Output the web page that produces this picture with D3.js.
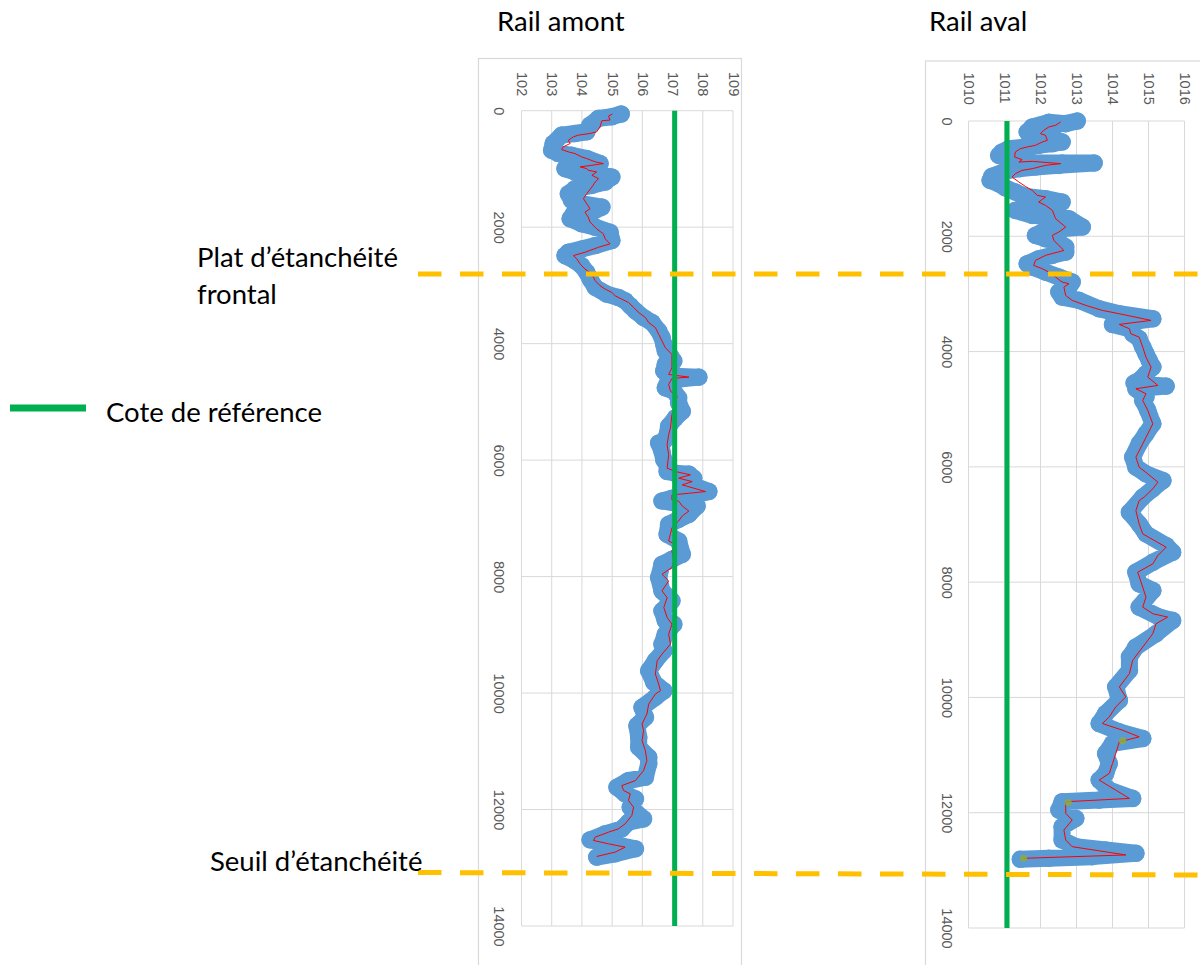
<!DOCTYPE html>
<html>
<head>
<meta charset="utf-8">
<script src="https://cdn.jsdelivr.net/npm/d3@7"></script>
<style>
  html, body { margin: 0; padding: 0; background: #ffffff; }
  svg { display: block; }
  .tick text { font-family: "Liberation Sans", Arial, sans-serif; font-size: 14.5px; fill: #595959; }
  .lbl { font-family: Lato, "Open Sans", sans-serif; font-size: 27.5px; fill: #000000; }
</style>
</head>
<body>
<svg id="chart" width="1200" height="965"></svg>
<script>
// ---- Rail amont : relevé [cote, position] ----
const amontMarkers = [
  [105.30,57],[104.99,103],[104.55,132],[104.27,247],[104.16,362],[103.77,391],[103.33,420],[103.05,563],
  [103.00,678],[103.22,736],[103.66,764],[104.16,822],[104.60,908],[103.99,965],[103.44,994],[103.77,1052],
  [104.44,1080],[104.99,1138],[104.77,1224],[104.33,1282],[103.77,1339],[103.55,1425],[103.66,1540],[103.99,1598],
  [104.66,1655],[104.33,1741],[103.72,1770],[103.61,1856],[103.99,1942],[104.44,2000],[104.93,2086],[104.99,2230],
  [104.44,2316],[103.99,2374],[103.55,2431],[103.44,2488],[103.77,2575],[103.99,2661],[104.16,2776],[104.27,2891],
  [104.44,3034],[104.82,3149],[105.21,3207],[105.43,3264],[105.60,3350],[105.77,3437],[106.04,3552],[106.32,3638],
  [106.54,3782],[106.65,3896],[106.71,4011],[106.76,4126],[106.93,4213],[107.04,4299],[106.76,4356],[106.71,4471],
  [106.87,4557],[107.87,4575],[107.09,4615],[106.82,4690],[106.76,4758],[107.04,4816],[107.20,4931],[107.20,5017],
  [107.32,5161],[107.09,5276],[106.87,5419],[106.82,5563],[106.71,5678],[106.54,5707],[106.65,5850],[106.71,5994],
  [106.82,6080],[106.82,6195],[107.09,6224],[107.54,6241],[107.70,6310],[107.32,6368],[107.76,6454],[108.20,6540],
  [107.76,6598],[106.98,6655],[106.65,6701],[107.32,6760],[107.81,6789],[107.54,6931],[107.20,7017],[106.87,7103],
  [106.82,7274],[107.20,7389],[107.32,7617],[106.98,7703],[106.65,7789],[106.54,8017],[106.65,8246],[106.98,8417],
  [106.65,8589],[106.76,8760],[107.04,8817],[106.76,8989],[106.65,9160],[106.71,9274],[106.43,9446],[106.21,9617],
  [106.38,9817],[106.71,9960],[106.43,10074],[105.99,10246],[106.10,10417],[105.82,10560],[105.88,10760],[105.88,10931],
  [106.21,11103],[106.21,11217],[106.10,11446],[105.54,11503],[105.16,11617],[105.43,11731],[105.77,11817],[105.60,11960],
  [106.04,12160],[105.54,12217],[105.32,12331],[104.77,12417],[104.27,12520],[104.99,12589],[105.77,12674],[105.10,12760],
  [104.49,12817]
];
const amontLine = [
  [105.01,57],[104.88,92],[104.93,161],[104.66,172],[104.60,276],[104.49,362],[104.27,391],[103.88,420],
  [103.72,448],[103.55,506],[103.61,563],[103.38,621],[103.33,667],[103.55,707],[103.77,736],[103.99,793],
  [104.16,822],[104.44,879],[104.71,908],[104.33,937],[103.94,965],[104.16,994],[104.21,1023],[104.49,1052],
  [104.33,1109],[104.55,1167],[104.44,1224],[104.33,1310],[104.16,1425],[104.05,1511],[104.16,1598],[104.27,1684],
  [104.10,1741],[104.21,1828],[104.27,1914],[104.49,2029],[104.71,2115],[104.77,2201],[104.93,2287],[104.55,2345],
  [104.10,2431],[103.72,2488],[103.83,2546],[103.94,2632],[104.10,2718],[104.33,2805],[104.44,2919],[104.60,3006],
  [104.77,3063],[104.99,3121],[105.10,3178],[105.32,3236],[105.54,3293],[105.71,3379],[105.88,3465],[106.10,3552],
  [106.21,3638],[106.43,3724],[106.54,3839],[106.65,3954],[106.76,4069],[106.98,4184],[106.98,4299],[106.98,4414],
  [106.87,4529],[107.54,4575],[106.98,4598],[106.87,4701],[106.93,4816],[107.15,4902],[107.09,5046],[106.98,5218],
  [106.93,5448],[106.87,5563],[106.82,5736],[106.87,5908],[106.82,6138],[107.09,6195],[107.59,6253],[107.20,6310],
  [107.65,6368],[107.32,6425],[108.09,6540],[107.54,6569],[106.98,6598],[106.98,6684],[107.20,6703],[107.32,6789],
  [107.54,6874],[107.32,6960],[107.20,7046],[106.98,7160],[106.87,7389],[107.09,7446],[106.98,7560],[107.04,7731],
  [106.98,7846],[106.65,7960],[106.87,8074],[106.65,8246],[106.82,8360],[106.71,8531],[106.82,8703],[106.98,8817],
  [106.87,8989],[106.93,9160],[106.65,9331],[106.49,9446],[106.43,9674],[106.54,9846],[106.60,9960],[106.43,10017],
  [106.21,10189],[106.15,10360],[105.99,10531],[106.04,10646],[105.99,10817],[106.10,10989],[106.15,11160],[106.04,11331],
  [105.77,11503],[105.32,11589],[105.38,11674],[105.60,11731],[105.54,11846],[105.71,11960],[105.65,12103],[105.43,12246],
  [105.21,12331],[104.88,12389],[104.44,12474],[104.38,12531],[104.88,12589],[105.43,12646],[105.10,12731],[104.49,12806]
];

// ---- Rail aval : relevé [cote, position] ----
const avalMarkers = [
  [1013.02,0],[1012.70,46],[1012.23,23],[1011.77,104],[1011.63,191],[1011.77,249],[1012.05,278],[1012.37,307],
  [1012.60,364],[1012.33,393],[1011.95,422],[1011.58,451],[1011.12,480],[1010.93,538],[1010.84,596],[1011.07,654],
  [1011.30,712],[1011.77,729],[1012.60,729],[1013.49,729],[1012.51,769],[1011.86,798],[1011.40,827],[1011.02,868],
  [1010.65,960],[1010.60,1030],[1010.84,1088],[1011.02,1157],[1011.30,1232],[1011.58,1307],[1012.14,1348],[1012.60,1406],
  [1012.14,1464],[1011.49,1493],[1011.30,1550],[1011.77,1637],[1012.33,1666],[1012.79,1695],[1013.16,1840],[1012.60,1869],
  [1012.05,1926],[1011.86,1984],[1012.14,2042],[1012.51,2100],[1012.70,2187],[1012.70,2274],[1012.33,2331],[1011.95,2389],
  [1011.63,2476],[1011.77,2534],[1012.14,2621],[1012.51,2707],[1012.88,2794],[1012.79,2881],[1012.51,2968],[1012.60,3054],
  [1013.07,3112],[1013.63,3257],[1014.19,3344],[1015.12,3431],[1014.00,3529],[1014.47,3604],[1014.56,3691],[1014.74,3778],
  [1014.84,3922],[1014.93,4038],[1015.02,4154],[1015.12,4269],[1014.93,4385],[1014.74,4501],[1014.60,4547],[1015.49,4599],
  [1014.65,4645],[1014.93,4790],[1014.84,4848],[1014.98,5021],[1015.12,5253],[1014.93,5426],[1014.74,5600],[1014.56,5831],
  [1014.65,6005],[1014.93,6121],[1015.40,6236],[1015.12,6381],[1014.84,6525],[1014.47,6788],[1014.74,6990],[1014.93,7163],
  [1015.49,7365],[1015.67,7481],[1015.12,7654],[1014.65,7827],[1014.74,8029],[1015.12,8144],[1014.74,8433],[1015.30,8606],
  [1015.67,8664],[1015.21,8895],[1014.65,9126],[1014.47,9299],[1014.47,9530],[1014.09,9818],[1014.19,10049],[1013.81,10280],
  [1013.63,10453],[1014.19,10597],[1014.84,10713],[1014.00,10799],[1013.81,10973],[1013.91,11146],[1013.81,11319],[1013.63,11434],
  [1013.91,11608],[1014.56,11752],[1013.63,11781],[1012.60,11810],[1012.51,11954],[1012.98,12098],[1012.60,12242],[1012.60,12473],
  [1012.98,12589],[1013.81,12646],[1014.65,12704],[1013.44,12762],[1012.23,12791],[1011.44,12808]
];
const avalLine = [
  [1012.56,17],[1012.42,75],[1012.23,104],[1012.09,162],[1012.00,220],[1012.14,249],[1012.19,336],[1012.05,364],
  [1011.86,422],[1011.63,451],[1011.44,480],[1011.30,538],[1011.28,625],[1011.49,671],[1011.40,712],[1011.77,700],
  [1012.56,740],[1012.14,769],[1011.77,827],[1011.49,856],[1011.30,914],[1011.21,972],[1011.40,1059],[1011.58,1134],
  [1011.77,1203],[1011.91,1290],[1012.14,1319],[1011.95,1406],[1012.14,1464],[1012.33,1550],[1012.42,1695],[1012.70,1840],
  [1012.51,1926],[1012.33,1984],[1012.37,2071],[1012.65,2245],[1012.14,2331],[1011.86,2418],[1011.81,2505],[1012.05,2563],
  [1012.23,2621],[1012.42,2707],[1012.60,2794],[1012.79,2823],[1012.65,2881],[1012.70,3026],[1012.88,3112],[1013.26,3199],
  [1013.72,3286],[1014.19,3344],[1015.07,3459],[1014.19,3529],[1014.47,3604],[1014.51,3691],[1014.74,3749],[1014.84,3922],
  [1014.93,4096],[1015.07,4269],[1014.98,4443],[1015.26,4587],[1014.65,4645],[1014.93,4732],[1014.84,4848],[1014.98,5021],
  [1015.12,5253],[1014.98,5426],[1014.84,5600],[1014.65,5831],[1014.74,6005],[1014.98,6121],[1015.26,6265],[1015.12,6381],
  [1014.88,6525],[1014.74,6586],[1014.65,6759],[1014.74,6990],[1014.84,7163],[1015.49,7394],[1015.26,7538],[1015.12,7683],
  [1014.70,7827],[1014.84,8087],[1014.93,8260],[1014.84,8433],[1015.12,8548],[1015.53,8606],[1015.21,8722],[1015.12,8895],
  [1014.84,9126],[1014.56,9356],[1014.47,9587],[1014.19,9818],[1014.37,9991],[1014.09,10165],[1013.91,10338],[1013.72,10453],
  [1014.28,10569],[1014.74,10684],[1014.19,10771],[1014.09,10973],[1014.00,11146],[1013.91,11319],[1013.63,11434],[1014.09,11608],
  [1014.47,11752],[1012.70,11810],[1012.70,12012],[1012.88,12127],[1012.65,12300],[1012.70,12473],[1012.88,12589],[1014.37,12733],
  [1011.53,12791]
];
const avalPoints = [[1014.28,10753],[1012.77,11821],[1011.53,12791]];

// Cote de référence of each rail
const amontReference = 107.07;
const avalReference = 1011.07;

// Limits marked across both panels
const limitPlat = "Plat d\u2019étanchéité";
const limitSeuil = "Seuil d\u2019étanchéité";

// Axis ticks
const amontTicks = [102, 103, 104, 105, 106, 107, 108, 109];
const avalTicks = [1010, 1011, 1012, 1013, 1014, 1015, 1016];
const positionTicks = [0, 2000, 4000, 6000, 8000, 10000, 12000, 14000];

const svg = d3.select("#chart");

const panels = [
  { title: "Rail amont", titleX: 497, frame: [478, 58, 263, 940],
    x: d3.scaleLinear().domain([102, 109]).range([521.5, 733]),
    y: d3.scaleLinear().domain([0, 14000]).range([110.7, 926]),
    ticks: amontTicks, tickY: 72, posX: 499,
    markers: amontMarkers, line: amontLine, points: [], ref: amontReference },
  { title: "Rail aval", titleX: 929, frame: [925, 60.5, 320, 940],
    x: d3.scaleLinear().domain([1010, 1016]).range([968.5, 1184.5]),
    y: d3.scaleLinear().domain([0, 14000]).range([121, 928]),
    ticks: avalTicks, tickY: 72.5, posX: 947,
    markers: avalMarkers, line: avalLine, points: avalPoints, ref: avalReference }
];

panels.forEach(p => {
  const g = svg.append("g");
  const [ya, yb] = p.y.range();

  // chart frame
  g.append("rect")
    .attr("x", p.frame[0] + 0.5).attr("y", p.frame[1] + 0.5)
    .attr("width", p.frame[2]).attr("height", p.frame[3])
    .attr("fill", "#ffffff").attr("stroke", "#d9d9d9").attr("stroke-width", 1.2);

  // gridlines
  g.append("g").selectAll("line").data(p.ticks).join("line")
    .attr("x1", d => p.x(d)).attr("x2", d => p.x(d))
    .attr("y1", ya).attr("y2", yb)
    .attr("stroke", "#d9d9d9").attr("stroke-width", 1);
  g.append("g").selectAll("line").data(positionTicks).join("line")
    .attr("x1", p.x.range()[0]).attr("x2", p.x.range()[1])
    .attr("y1", d => p.y(d)).attr("y2", d => p.y(d))
    .attr("stroke", "#d9d9d9").attr("stroke-width", 1);

  // cote axis (top), labels rotated
  const ax = g.append("g").attr("transform", `translate(0,${p.tickY})`)
    .call(d3.axisTop(p.x).tickValues(p.ticks).tickSize(0).tickFormat(d3.format("d")));
  ax.select(".domain").remove();
  ax.selectAll(".tick text")
    .attr("x", 0).attr("y", 0).attr("dy", null)
    .attr("transform", "rotate(90)")
    .attr("text-anchor", "start")
    .attr("dominant-baseline", "central");

  // position axis (left), labels rotated
  const ay = g.append("g").attr("transform", `translate(${p.posX},0)`)
    .call(d3.axisLeft(p.y).tickValues(positionTicks).tickSize(0).tickFormat(d3.format("d")));
  ay.select(".domain").remove();
  ay.selectAll(".tick text")
    .attr("x", 0).attr("y", 0).attr("dy", null)
    .attr("transform", "rotate(90)")
    .attr("text-anchor", "middle")
    .attr("dominant-baseline", "central");

  const path = d3.line().x(d => p.x(d[0])).y(d => p.y(d[1]));

  // measured markers (wide blue trace)
  g.append("path").datum(p.markers)
    .attr("d", path).attr("fill", "none")
    .attr("stroke", "#5b9bd5").attr("stroke-width", 17)
    .attr("stroke-linejoin", "round").attr("stroke-linecap", "round");
  g.append("g").selectAll("circle").data(p.markers).join("circle")
    .attr("cx", d => p.x(d[0])).attr("cy", d => p.y(d[1])).attr("r", 8.8)
    .attr("fill", "#5b9bd5");

  // thin red profile
  g.append("path").datum(p.line)
    .attr("d", path).attr("fill", "none")
    .attr("stroke", "#ff0000").attr("stroke-width", 1);

  g.append("g").selectAll("circle").data(p.points).join("circle")
    .attr("cx", d => p.x(d[0])).attr("cy", d => p.y(d[1])).attr("r", 3.5)
    .attr("fill", "#8faa3c").attr("opacity", 0.85);

  // reference level
  g.append("line")
    .attr("x1", p.x(p.ref)).attr("x2", p.x(p.ref))
    .attr("y1", ya).attr("y2", yb)
    .attr("stroke", "#00b050").attr("stroke-width", 5);

  // title
  svg.append("text").attr("class", "lbl")
    .attr("x", p.titleX).attr("y", 31).text(p.title);
});

// dashed limits across both panels
const limits = [
  { y1: 274, y2: 274 },
  { y1: 872.5, y2: 875 }
];
svg.append("g").selectAll("line").data(limits).join("line")
  .attr("x1", 418).attr("x2", 1200)
  .attr("y1", d => d.y1).attr("y2", d => d.y2)
  .attr("stroke", "#ffc000").attr("stroke-width", 5)
  .attr("stroke-dasharray", "23.5 18.5");

// annotations
svg.append("text").attr("class", "lbl").attr("x", 197).attr("y", 267).text(limitPlat);
svg.append("text").attr("class", "lbl").attr("x", 197).attr("y", 304).text("frontal");
svg.append("text").attr("class", "lbl").attr("x", 210).attr("y", 871).text(limitSeuil);

// legend
svg.append("line").attr("x1", 10).attr("x2", 86).attr("y1", 408).attr("y2", 408)
  .attr("stroke", "#00b050").attr("stroke-width", 7);
svg.append("text").attr("class", "lbl").attr("x", 106).attr("y", 422).text("Cote de référence");
</script>
</body>
</html>
